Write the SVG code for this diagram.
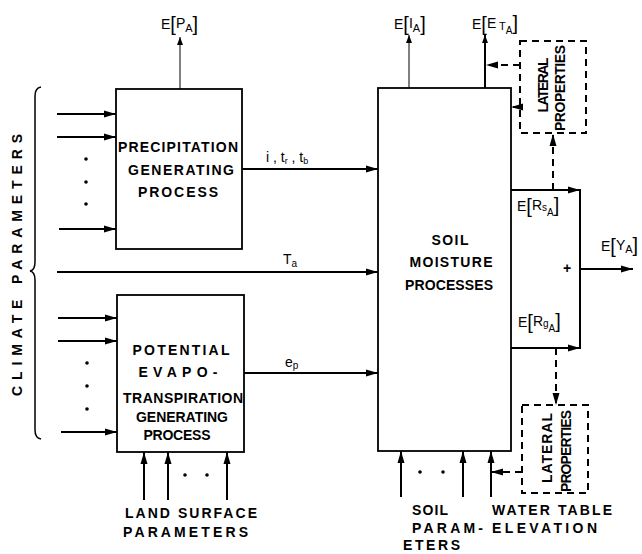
<svg xmlns="http://www.w3.org/2000/svg" width="642" height="554" viewBox="0 0 642 554">
<style>
.box{fill:#fff;stroke:#000;stroke-width:1.8}
.dbox{fill:none;stroke:#000;stroke-width:2;stroke-dasharray:7 5}
.ln{fill:none;stroke:#000;stroke-width:2}
.thin{fill:none;stroke:#000;stroke-width:1}
.dash{fill:none;stroke:#000;stroke-width:2;stroke-dasharray:7 5}
.t{font-family:"Liberation Sans",Arial,sans-serif;font-weight:bold;font-size:14px;fill:#000}
.s{font-family:"Liberation Sans",Arial,sans-serif;font-size:14px;fill:#000}
</style>
<defs>
<marker id="ah" markerUnits="userSpaceOnUse" markerWidth="12" markerHeight="8" refX="12" refY="4" orient="auto"><path d="M0,0.5 L12,4 L0,7.5 z" fill="#000"/></marker>
<marker id="ahs" markerUnits="userSpaceOnUse" markerWidth="8" markerHeight="6" refX="8" refY="3" orient="auto"><path d="M0,0 L8,3 L0,6 z" fill="#000"/></marker>
</defs>
<rect width="642" height="554" fill="#fff"/>

<g id="brace">
<path d="M41,87 Q35,88 35,96 L35,262 Q35,270 30,271 Q35,272 35,280 L35,430 Q35,438 41,439" fill="none" stroke="#000" stroke-width="1.5"/>
<text class="t" transform="translate(22,265) rotate(-90)" text-anchor="middle" font-size="14" textLength="262" lengthAdjust="spacing">CLIMATE  PARAMETERS</text>
</g>

<g id="precip">
<rect class="box" x="116" y="89" width="126" height="160"/>
<text class="t" x="178" y="152" text-anchor="middle" textLength="120" lengthAdjust="spacing">PRECIPITATION</text>
<text class="t" x="181" y="175" text-anchor="middle" textLength="106" lengthAdjust="spacing">GENERATING</text>
<text class="t" x="178" y="197" text-anchor="middle" textLength="80" lengthAdjust="spacing">PROCESS</text>
</g>

<g id="pet">
<rect class="box" x="117" y="295" width="127" height="157"/>
<text class="t" x="181" y="355" text-anchor="middle" font-size="13.5" textLength="97" lengthAdjust="spacing">POTENTIAL</text>
<text class="t" x="178" y="377" text-anchor="middle" font-size="13.5" textLength="79" lengthAdjust="spacing">EVAPO-</text>
<text class="t" x="183" y="403" text-anchor="middle" font-size="12.5" textLength="120" lengthAdjust="spacing">TRANSPIRATION</text>
<text class="t" x="182" y="422" text-anchor="middle" font-size="12.5" textLength="92" lengthAdjust="spacing">GENERATING</text>
<text class="t" x="177" y="440" text-anchor="middle" font-size="12.5" textLength="67" lengthAdjust="spacing">PROCESS</text>
</g>

<g id="soil">
<rect class="box" x="378" y="88" width="133" height="363"/>
<text class="t" x="450" y="245" text-anchor="middle" textLength="37" lengthAdjust="spacing">SOIL</text>
<text class="t" x="451" y="267" text-anchor="middle" textLength="83" lengthAdjust="spacing">MOISTURE</text>
<text class="t" x="449" y="290" text-anchor="middle" textLength="88" lengthAdjust="spacing">PROCESSES</text>
</g>

<g id="lat-top">
<rect class="dbox" x="520" y="41" width="66" height="92"/>
<text class="t" transform="translate(548,85) rotate(-90)" text-anchor="middle" font-size="12" textLength="55" lengthAdjust="spacing">LATERAL</text>
<text class="t" transform="translate(565,88) rotate(-90)" text-anchor="middle" font-size="12" textLength="86" lengthAdjust="spacing">PROPERTIES</text>
</g>

<g id="lat-bottom">
<rect class="dbox" x="522" y="405" width="66" height="88"/>
<text class="t" transform="translate(552,448) rotate(-90)" text-anchor="middle" font-size="12" textLength="70" lengthAdjust="spacing">LATERAL</text>
<text class="t" transform="translate(571,451) rotate(-90)" text-anchor="middle" font-size="12" textLength="82" lengthAdjust="spacing">PROPERTIES</text>
</g>

<g id="connectors">
<line class="ln" x1="57" y1="114" x2="116" y2="114" marker-end="url(#ah)"/>
<line class="ln" x1="57" y1="137" x2="116" y2="137" marker-end="url(#ah)"/>
<line class="ln" x1="59" y1="229" x2="116" y2="229" marker-end="url(#ah)"/>
<line class="ln" x1="58" y1="318" x2="117" y2="318" marker-end="url(#ah)"/>
<line class="ln" x1="58" y1="341" x2="117" y2="341" marker-end="url(#ah)"/>
<line class="ln" x1="61" y1="432" x2="117" y2="432" marker-end="url(#ah)"/>
<line class="ln" x1="57" y1="272" x2="378" y2="272" marker-end="url(#ah)"/>
<line class="ln" x1="242" y1="169" x2="378" y2="169" marker-end="url(#ah)"/>
<line class="ln" x1="244" y1="373" x2="378" y2="373" marker-end="url(#ah)"/>
<line class="thin" x1="180" y1="89" x2="180" y2="37" marker-end="url(#ahs)"/>
<line class="thin" x1="409" y1="88" x2="409" y2="35" marker-end="url(#ahs)"/>
<line class="ln" x1="485" y1="88" x2="485" y2="35" marker-end="url(#ahs)"/>
<line class="ln" x1="511" y1="190" x2="580" y2="190" marker-end="url(#ah)"/>
<line class="ln" x1="511" y1="348" x2="580" y2="348" marker-end="url(#ah)"/>
<line class="ln" x1="580" y1="189" x2="580" y2="349"/>
<line class="ln" x1="580" y1="269" x2="633" y2="269" marker-end="url(#ah)"/>
<line class="dash" x1="553" y1="190" x2="553" y2="134" marker-end="url(#ah)"/>
<line class="dash" x1="520" y1="65" x2="486" y2="65" marker-end="url(#ah)"/>
<line class="dash" x1="520" y1="107" x2="511" y2="107" marker-end="url(#ah)"/>
<line class="dash" x1="556" y1="348" x2="556" y2="405" marker-end="url(#ah)"/>
<line class="dash" x1="522" y1="472" x2="491" y2="472" marker-end="url(#ah)"/>
<line class="ln" x1="144" y1="500" x2="144" y2="452" marker-end="url(#ah)"/>
<line class="ln" x1="168" y1="500" x2="168" y2="452" marker-end="url(#ah)"/>
<line class="ln" x1="227" y1="500" x2="227" y2="452" marker-end="url(#ah)"/>
<line class="ln" x1="401" y1="497" x2="401" y2="451" marker-end="url(#ah)"/>
<line class="ln" x1="463" y1="497" x2="463" y2="451" marker-end="url(#ah)"/>
<line class="ln" x1="491" y1="497" x2="491" y2="451" marker-end="url(#ah)"/>
</g>

<g id="dots" fill="#000">
<circle cx="86" cy="159" r="1.8"/><circle cx="86" cy="182" r="1.8"/><circle cx="86" cy="204" r="1.8"/>
<circle cx="87" cy="363" r="1.8"/><circle cx="87" cy="386" r="1.8"/><circle cx="87" cy="409" r="1.8"/>
<circle cx="185" cy="475" r="1.8"/><circle cx="207" cy="475" r="1.8"/>
<circle cx="420" cy="472" r="1.8"/><circle cx="443" cy="472" r="1.8"/>
</g>

<g id="labels">
<text class="s" x="161" y="29">E<tspan font-size="20" dy="2">[</tspan><tspan dy="-3">P</tspan><tspan font-size="11" dy="4">A</tspan><tspan font-size="20" dy="-1">]</tspan></text>
<text class="s" x="394" y="29">E<tspan font-size="20" dy="2">[</tspan><tspan dy="-3">I</tspan><tspan font-size="11" dy="4">A</tspan><tspan font-size="20" dy="-1">]</tspan></text>
<text class="s" x="472" y="29">E<tspan font-size="20" dy="2">[</tspan><tspan dy="-3">E</tspan><tspan font-size="11" dy="2"> T</tspan><tspan font-size="10" dy="4">A</tspan><tspan font-size="20" dy="-4">]</tspan></text>
<text class="s" x="266" y="162" font-size="11">i , t<tspan font-size="9" dy="2">r</tspan><tspan dy="-2"> , t</tspan><tspan font-size="9" dy="2">b</tspan></text>
<text class="s" x="283" y="264" font-size="12">T<tspan font-size="10" dy="3">a</tspan></text>
<text class="s" x="285" y="367" font-size="11">e<tspan font-size="10" dy="2">p</tspan></text>
<text class="s" x="517" y="211">E<tspan font-size="20" dy="2">[</tspan><tspan dy="-3">R</tspan><tspan font-size="10" dy="1">s</tspan><tspan font-size="10" dy="5">A</tspan><tspan font-size="20" dy="-4">]</tspan></text>
<text class="s" x="518" y="327">E<tspan font-size="20" dy="2">[</tspan><tspan dy="-3">R</tspan><tspan font-size="10" dy="1">g</tspan><tspan font-size="10" dy="5">A</tspan><tspan font-size="20" dy="-4">]</tspan></text>
<text class="s" x="601" y="251">E<tspan font-size="20" dy="2">[</tspan><tspan dy="-3">Y</tspan><tspan font-size="11" dy="3">A</tspan><tspan font-size="20" dy="-1">]</tspan></text>
<text class="s" x="567" y="273" text-anchor="middle" font-size="13" font-weight="bold">+</text>
<text class="t" x="125" y="518" font-size="13" textLength="132" lengthAdjust="spacing">LAND  SURFACE</text>
<text class="t" x="123" y="537" font-size="13" textLength="125" lengthAdjust="spacing">PARAMETERS</text>
<text class="t" x="412" y="515" font-size="13" textLength="36" lengthAdjust="spacing">SOIL</text>
<text class="t" x="412" y="533" font-size="13" textLength="71" lengthAdjust="spacing">PARAM-</text>
<text class="t" x="403" y="550" font-size="13" textLength="57" lengthAdjust="spacing">ETERS</text>
<text class="t" x="492" y="515" font-size="13" textLength="120" lengthAdjust="spacing">WATER  TABLE</text>
<text class="t" x="492" y="533" font-size="13" textLength="105" lengthAdjust="spacing">ELEVATION</text>
</g>
</svg>
